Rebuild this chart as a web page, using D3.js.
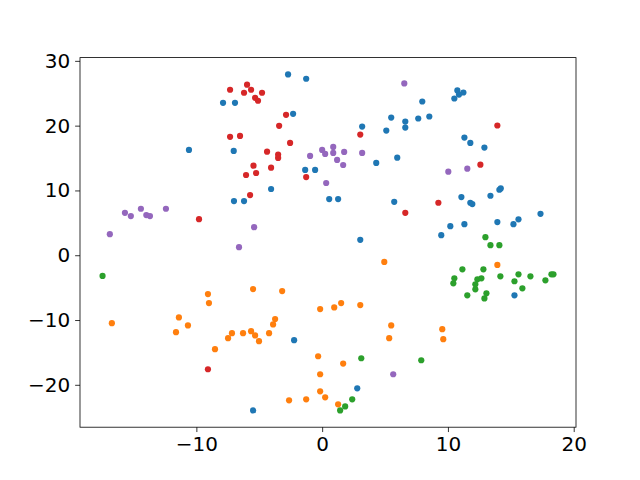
<!DOCTYPE html>
<html><head><meta charset="utf-8">
<script src="https://cdn.jsdelivr.net/npm/d3@7"></script>
<style>body{margin:0;background:#fff}svg{display:block}</style>
</head><body>
<svg id="c" width="640" height="480"></svg>
<script>
const seriesNames = ["blue", "orange", "green", "red", "purple"];
const seriesColors = ["#1f77b4", "#ff7f0e", "#2ca02c", "#d62728", "#9467bd"];
const blueX = [-7.88,-6.93,-10.59,-7.03,-7.01,-6.21,-2.71,-1.27,-2.31,-4.06,-1.35,-0.56,0.56,1.27,3.18,5.49,5.10,6.61,6.61,4.30,5.97,5.73,3.03,7.96,7.64,8.52,10.75,11.23,10.88,10.51,11.31,11.78,12.90,11.07,11.78,11.94,13.38,14.09,14.20,17.36,10.19,11.31,9.47,13.93,15.21,15.61,15.29,-2.23,2.79,-5.49];
const blueY = [23.53,23.53,16.25,16.10,8.36,8.36,27.91,27.24,21.83,10.22,13.16,13.16,8.67,8.67,19.86,21.25,19.24,20.63,19.71,14.24,15.06,8.25,2.37,23.73,21.10,21.41,25.43,25.12,24.8,24.19,18.16,17.34,16.61,8.98,8.10,7.89,9.18,10.11,10.31,6.39,4.49,4.80,3.10,5.11,4.80,5.54,-6.19,-13.11,-20.54,-23.95];
const orangeX = [-16.72,-9.08,-9.00,-11.39,-10.67,-11.62,-7.17,-7.48,-6.29,-5.65,-5.33,-5.02,-8.52,-5.49,-3.18,-4.22,-3.74,-3.90,-0.16,0.96,1.51,3.03,4.94,5.49,5.33,-0.32,1.67,-0.16,-0.16,0.24,-2.63,-1.27,1.27,13.93,9.55,9.63];
const orangeY = [-10.48,-5.99,-7.38,-9.60,-10.84,-11.87,-12.03,-12.80,-12.03,-11.72,-12.38,-13.27,-14.50,-5.22,-5.53,-12.03,-9.86,-10.68,-8.31,-8.05,-7.38,-7.69,-1.04,-10.84,-12.80,-15.59,-16.72,-18.37,-21.01,-21.93,-22.40,-22.24,-23.02,-1.50,-11.41,-12.96];
const greenX = [-17.46,3.11,2.39,1.83,1.43,7.88,12.98,13.38,14.09,11.15,12.82,10.51,10.43,12.34,12.66,12.18,12.18,11.54,13.06,12.90,14.17,15.61,15.29,16.56,15.92,17.75,18.23,18.39];
const greenY = [-3.20,-15.90,-22.24,-23.33,-23.95,-16.21,2.79,1.55,1.55,-2.17,-2.17,-3.56,-4.33,-3.72,-3.56,-4.49,-5.26,-6.19,-5.88,-6.66,-3.25,-2.94,-4.02,-3.25,-5.11,-3.87,-2.94,-2.94];
const redX = [-7.32,-5.97,-5.65,-6.21,-5.33,-5.10,-4.78,-2.87,-3.42,-7.32,-6.53,-2.55,-4.38,-3.50,-3.50,-5.46,-4.06,-6.05,-5.25,-5.73,-9.79,-1.27,3.03,6.61,13.93,12.58,9.24,-9.08];
const redY = [25.54,26.32,25.54,25.08,24.30,23.84,25.08,21.67,19.97,18.27,18.42,17.34,15.99,15.53,15.02,13.82,13.51,12.38,12.69,9.29,5.57,12.07,18.62,6.55,20.02,13.98,8.10,-17.60];
const purpleX = [-15.68,-15.21,-14.41,-13.98,-13.69,-12.42,-16.88,-6.61,-5.41,-0.96,0.00,0.24,0.88,0.88,1.75,1.19,1.67,3.18,0.32,6.53,10.03,11.54,5.65];
const purpleY = [6.55,6.04,7.17,6.19,6.04,7.17,3.25,1.24,4.33,15.33,16.25,15.63,16.72,15.79,15.94,14.71,13.93,15.79,11.15,26.52,12.89,13.36,-18.37];
const xTicks = [-10, 0, 10, 20];
const yTicks = [-20, -10, 0, 10, 20, 30];

const seriesX = [blueX, orangeX, greenX, redX, purpleX];
const seriesY = [blueY, orangeY, greenY, redY, purpleY];

const L = 80, R = 576, T = 57.6, B = 427.2;
const allX = seriesX.flat(), allY = seriesY.flat();
const [x0, x1] = d3.extent(allX), [y0, y1] = d3.extent(allY);
const mx = (x1 - x0) * 0.05, my = (y1 - y0) * 0.05;
const x = d3.scaleLinear().domain([x0 - mx, x1 + mx]).range([L, R]);
const y = d3.scaleLinear().domain([y0 - my, y1 + my]).range([B, T]);

const svg = d3.select("#c");
const font = "'DejaVu Sans', sans-serif";

seriesNames.forEach((name, i) => {
  const pts = seriesX[i].map((v, j) => [v, seriesY[i][j]]);
  svg.append("g").selectAll("circle").data(pts).join("circle")
    .attr("cx", d => x(d[0])).attr("cy", d => y(d[1]))
    .attr("r", 3.1).attr("fill", seriesColors[i]);
});

const tl = 4.86, pad = 4.86;
const xa = svg.append("g").attr("transform", `translate(0,${B})`)
  .call(d3.axisBottom(x).tickValues(xTicks).tickSize(tl).tickPadding(pad).tickFormat(d3.format("d")));
const ya = svg.append("g").attr("transform", `translate(${L},0)`)
  .call(d3.axisLeft(y).tickValues(yTicks).tickSize(tl).tickPadding(pad).tickFormat(d3.format("d")));
[xa, ya].forEach(a => {
  a.select(".domain").remove();
  a.selectAll(".tick line").attr("stroke", "#000").attr("stroke-width", 0.8);
  a.selectAll(".tick text").attr("fill", "#000").style("font-family", font).style("font-size", "20px");
});
svg.append("rect").attr("x", L).attr("y", T).attr("width", R - L).attr("height", B - T)
  .attr("fill", "none").attr("stroke", "#000").attr("stroke-width", 0.8);
</script>
</body></html>
